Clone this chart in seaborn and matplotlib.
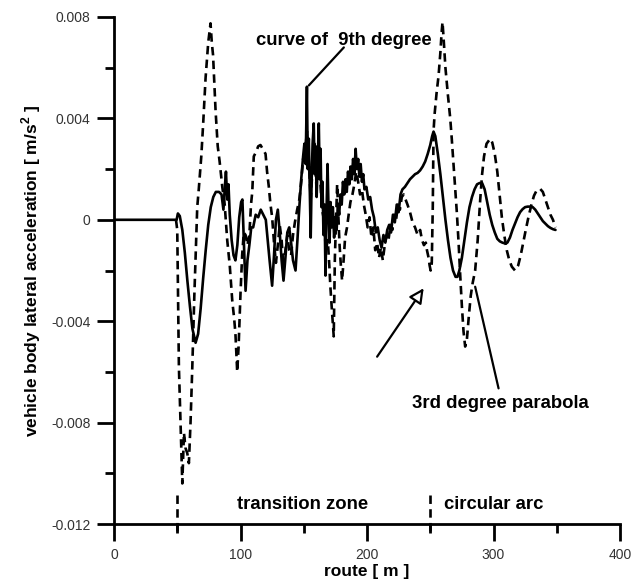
import numpy as np
import pandas as pd
import matplotlib
matplotlib.use("Agg")
import matplotlib.pyplot as plt
import seaborn as sns

# ---------------- data ----------------
# curve of 9th degree (solid): (route [m], acceleration [1e-3 m/s2])
ninth_pts = [
    (0, 0), (49.5, 0), (50.5, 0.25), (52, 0.15), (54, -0.4), (56, -1.3), (58, -2.4), (60, -3.4),
    (62, -4.3), (64.5, -4.85), (66.5, -4.5), (68.5, -3.5), (70.5, -2.3), (72.5, -1.2), (74.5, -0.2),
    (76.5, 0.5), (78.5, 0.9), (80.5, 1.1), (83, 1.1), (85, 1.0), (86.5, 0.4), (87.5, 1.2), (88.5, 1.9),
    (89.5, 0.8), (90.5, 1.4), (91.5, 0.2), (93, -0.8), (94.5, -1.4), (96, -1.6), (97.5, -1.0),
    (99, 0.1), (100.5, 0.7), (101.5, 0.8), (102.5, -0.6), (104, -2.8), (105.5, -1.6), (107, -1.0),
    (108.5, -0.3), (110, -0.3), (112, 0.2), (114, 0.1), (116, 0.4), (118, 0.2), (120, 0.0),
    (121.5, -0.8), (123, -1.6), (125, -2.6), (126.5, -1.4), (128, 0.0), (129.5, 0.4), (131, -0.5),
    (132.5, -1.6), (134, -2.4), (135.5, -1.5), (137, -0.5), (138.5, -0.3), (140, -0.9), (141.5, -1.6),
    (143.5, -2.0), (145, -0.8), (146.5, 0.5), (148, 1.6), (149.5, 2.5), (150.5, 3.0), (151.5, 2.2),
    (152.5, 5.25), (153.2, 2.0), (154, 3.2), (154.8, 1.2), (155.5, -0.7), (156.2, 1.5), (157, 3.0),
    (157.9, 3.8), (158.6, 1.8), (159.4, 2.9), (160.2, 0.9), (161, 2.2), (161.9, 3.8), (162.6, 1.6),
    (163.3, 2.8), (164, 0.5), (164.8, 1.5), (165.6, -0.6), (166.4, 0.6), (167.2, -2.2), (168, 0.3),
    (168.8, 2.2), (169.6, 0.4), (170.4, -0.9), (171.2, 0.7), (172, -0.3), (173, 0.5), (174, -0.7),
    (175, 0.1), (176, -0.4), (177, 0.6), (178, 0.2), (179, 1.0), (180, 0.6), (181, 1.5), (182, 1.0),
    (183, 1.6), (184, 1.1), (185, 1.9), (186, 1.4), (187, 2.1), (188, 1.6), (189, 2.4), (190, 1.8),
    (191, 2.8), (192, 2.0), (193, 2.4), (194, 1.7), (195, 2.2), (196, 1.5), (197, 1.8), (198, 1.2),
    (199.5, 1.3), (201, 0.8), (202.5, 0.9), (204, 0.4), (205.5, 0.1), (207, -0.5), (208.5, -0.3),
    (210, -0.8), (211.5, -1.1), (213, -0.6), (214.5, -0.9), (216, -0.4), (217.5, -0.2), (219, -0.5),
    (220.5, 0.2), (222, -0.1), (223.5, 0.6), (225, 0.3), (226.5, 1.0), (228, 1.2), (230, 1.3),
    (232, 1.45), (234, 1.6), (236, 1.7), (238, 1.8), (240, 1.85), (242, 1.95), (244, 2.1), (246, 2.3),
    (248, 2.6), (250, 2.95), (251.5, 3.3), (252.6, 3.48), (254, 3.3), (256, 2.6), (258, 1.8),
    (260, 0.9), (262, 0.0), (264, -0.8), (266, -1.5), (268, -2.0), (270, -2.25), (271.5, -2.25),
    (273, -2.0), (275, -1.5), (277, -0.8), (279, -0.1), (281, 0.5), (283, 0.9), (285, 1.2),
    (287, 1.4), (289, 1.45), (291, 1.45), (293, 1.2), (295, 0.7), (297, 0.2), (299, -0.2),
    (301, -0.5), (303, -0.75), (305, -0.85), (307, -0.9), (309, -0.93), (311, -0.9), (313, -0.7),
    (315, -0.4), (317, -0.15), (319, 0.1), (321, 0.3), (323, 0.42), (325, 0.5), (327, 0.52),
    (329, 0.52), (331, 0.5), (333, 0.4), (335, 0.25), (337, 0.1), (339, -0.05), (341, -0.15),
    (343, -0.25), (345, -0.32), (347, -0.37), (349, -0.4),
]

# 3rd degree parabola (dashed): (route [m], acceleration [1e-3 m/s2])
third_pts = [
    (49, 0), (50, -0.4), (51.3, -5.8), (52.7, -8.2), (54, -10.4), (55.3, -8.4), (56.5, -9.0),
    (57.9, -9.2), (59.2, -9.6), (60.5, -8.0), (61.9, -5.8), (63.5, -3.0), (65.8, 0.5), (67, 1.2),
    (69, 2.5), (70.5, 3.8), (72.4, 5.6), (74.5, 7.0), (76.3, 7.75), (77.3, 7.0), (78.3, 6.5),
    (80.3, 4.3), (82, 2.9), (83.5, 2.3), (85.6, 1.3), (87.5, 0.6), (89.5, -0.8), (91.5, -1.8),
    (93.5, -3.2), (95, -3.9), (96, -4.5), (97.4, -6.0), (98.5, -5.0), (100, -2.9), (101.3, -1.4),
    (102.6, -0.5), (104, -0.6), (105.5, -1.0), (107, -0.6), (108.3, 0.6), (109.3, 1.1), (110.5, 2.5),
    (112.5, 2.7), (114, 2.9), (115.8, 2.95), (117.5, 2.8), (119.8, 2.6), (121, 1.9), (122.4, 1.3),
    (123.5, 0.7), (125, 0.1), (126.5, -0.9), (128, -1.7), (129.5, -1.0), (131, -0.2), (132.5, -0.8),
    (134, -1.9), (135.5, -1.2), (137, -0.6), (138.5, -1.2), (140, -1.4), (141.5, -0.6), (143, -0.1),
    (144.8, 0.4), (146.5, 0.8), (148, 1.5), (149.5, 2.4), (151, 2.6), (152.5, 3.5), (154, 2.3),
    (155.5, 0.8), (157, 2.1), (158.5, 3.0), (160, 1.3), (161.5, 2.6), (163, 1.6), (164.5, 0.4),
    (166, 0.0), (167.5, -1.2), (169, -0.8), (170.2, -1.8), (171, -2.6), (172.3, -3.6), (173.7, -4.6),
    (174.6, -1.5), (175.5, 0.0), (176.4, 1.4), (177.3, 0.2), (178.2, -0.9), (179.2, -1.7),
    (180.3, -2.4), (181.5, -1.6), (182.7, -0.7), (184.2, -0.3), (185.5, 0.2), (186.9, 0.7),
    (188.5, 1.0), (190, 1.4), (191.5, 1.9), (193, 1.5), (194.5, 1.0), (196, 1.2), (197.5, 0.6),
    (199, 0.2), (200.5, -0.3), (202, 0.1), (203.5, -0.7), (205, -0.3), (206.5, -1.2), (208, -0.9),
    (209.5, -1.5), (211, -1.1), (212.5, -1.6), (214, -1.0), (215.5, -0.6), (217, -0.8), (218.5, -0.2),
    (220, -0.4), (221.5, 0.2), (223, 0.0), (224.5, 0.6), (226, 0.4), (227.5, 0.9), (229, 1.0),
    (230.5, 0.8), (232, 0.6), (234, 0.3), (236, -0.1), (238, -0.3), (240, -0.6), (242, -0.4),
    (243.5, -0.8), (245, -1.0), (246.5, -0.9), (247.4, -1.2), (248.7, -1.5), (249.5, -1.8),
    (250.3, -2.0), (251.2, -1.7), (252, 0.5), (252.6, 3.5), (253.5, 4.2), (255, 5.0), (256.6, 5.7),
    (258, 6.6), (259, 7.4), (259.7, 7.8), (260.5, 7.2), (262, 6.0), (264, 4.9), (265.8, 4.0),
    (267, 3.2), (268.4, 2.2), (270, 1.1), (271, 0.3), (272.4, -0.9), (273.7, -2.2), (275, -3.4),
    (276.3, -4.4), (277.6, -5.0), (279, -4.7), (280.5, -3.8), (282, -3.0), (283.5, -2.5),
    (285.5, -2.0), (287.5, -0.8), (289.5, 0.8), (291, 1.8), (292.5, 2.5), (294.5, 3.0), (297.4, 3.2),
    (299, 3.05), (301, 2.6), (303, 1.9), (305, 0.9), (306.6, 0.1), (308.5, -0.6), (310.5, -1.2),
    (312.5, -1.6), (314.5, -1.85), (317, -2.0), (319.5, -1.8), (321.5, -1.4), (323.5, -0.9),
    (325.5, -0.4), (327.6, 0.1), (330, 0.6), (332, 0.95), (334, 1.15), (336.9, 1.22), (339, 1.1),
    (341, 0.8), (343, 0.5), (345, 0.2), (347, 0.0), (349, -0.3),
]

x_ticks = [0, 100, 200, 300, 400]
y_ticks = [-0.012, -0.008, -0.004, 0, 0.004, 0.008]
y_tick_labels = ["-0.012", "-0.008", "-0.004", "0", "0.004", "0.008"]
zone_bounds = [50, 250]

# ---------------- style ----------------
sns.set_style("ticks")
plt.rcParams["font.family"] = ["Liberation Sans", "DejaVu Sans"]
plt.rcParams["mathtext.fontset"] = "custom"
plt.rcParams["mathtext.rm"] = "Liberation Sans:bold"
plt.rcParams["mathtext.bf"] = "Liberation Sans:bold"
plt.rcParams["lines.dashed_pattern"] = [3.2, 2.0]

fig = plt.figure(figsize=(6.32, 5.86), dpi=100)
ax = fig.add_axes([114 / 632, 62 / 586, 506 / 632, 507 / 586])

df9 = pd.DataFrame(ninth_pts, columns=["route", "acc"])
df9["acc"] = df9["acc"] * 1e-3
df3 = pd.DataFrame(third_pts, columns=["route", "acc"])
df3["acc"] = df3["acc"] * 1e-3

sns.lineplot(data=df3, x="route", y="acc", ax=ax, color="black", lw=1.9,
             linestyle="--", sort=False, estimator=None)
sns.lineplot(data=df9, x="route", y="acc", ax=ax, color="black", lw=1.9,
             sort=False, estimator=None)

ax.set_xlim(0, 400)
ax.set_ylim(-0.012, 0.008)
ax.set_xticks(x_ticks)
ax.set_xticklabels([str(v) for v in x_ticks])
ax.set_yticks(y_ticks)
ax.set_yticklabels(y_tick_labels)
ax.set_xticks([50, 150, 250, 350], minor=True)
ax.set_yticks([-0.010, -0.006, -0.002, 0.002, 0.006], minor=True)

sns.despine(ax=ax)
for s in ["left", "bottom"]:
    ax.spines[s].set_linewidth(2.0)
    ax.spines[s].set_color("black")
ax.tick_params(axis="both", which="major", length=12, width=2.0, direction="out",
               color="black", labelsize=10, labelcolor="#333333", pad=5)
ax.tick_params(axis="both", which="minor", length=6.5, width=2.0, direction="out",
               color="black")

ax.set_xlabel("route [ m ]", fontsize=12.5, fontweight="bold", labelpad=2, color="black")
ax.set_ylabel(r"vehicle body lateral acceleration [ m/s$^{2}$ ]", fontsize=12.5,
              fontweight="bold", labelpad=6, color="black")

# zone boundaries
for zb in zone_bounds:
    ax.plot([zb, zb], [-0.01085, -0.01235], color="black", lw=1.9, linestyle="--",
            clip_on=False)

ann = dict(fontsize=13.3, fontweight="bold", color="black")
ax.text(181.8, 0.00709, "curve of  9th degree", ha="center", va="center", **ann)
ax.annotate("", xy=(154, 0.0053), xytext=(181.7, 0.0068),
            arrowprops=dict(arrowstyle="-", lw=1.6, color="black", shrinkA=0, shrinkB=0))
ax.text(305.3, -0.00723, "3rd degree parabola", ha="center", va="center", **ann)
ax.annotate("", xy=(285.5, -0.00264), xytext=(304, -0.00665),
            arrowprops=dict(arrowstyle="-", lw=1.6, color="black", shrinkA=0, shrinkB=0))
ax.annotate("", xy=(244.8, -0.0027), xytext=(208, -0.0054),
            arrowprops=dict(arrowstyle="-|>", lw=1.6, color="black", fc="white",
                            mutation_scale=22, shrinkA=0, shrinkB=0))
ax.text(148.7, -0.01125, "transition zone", ha="center", va="center", **ann)
ax.text(260.6, -0.01125, "circular arc", ha="left", va="center", **ann)

fig.savefig("out.png", dpi=100)
